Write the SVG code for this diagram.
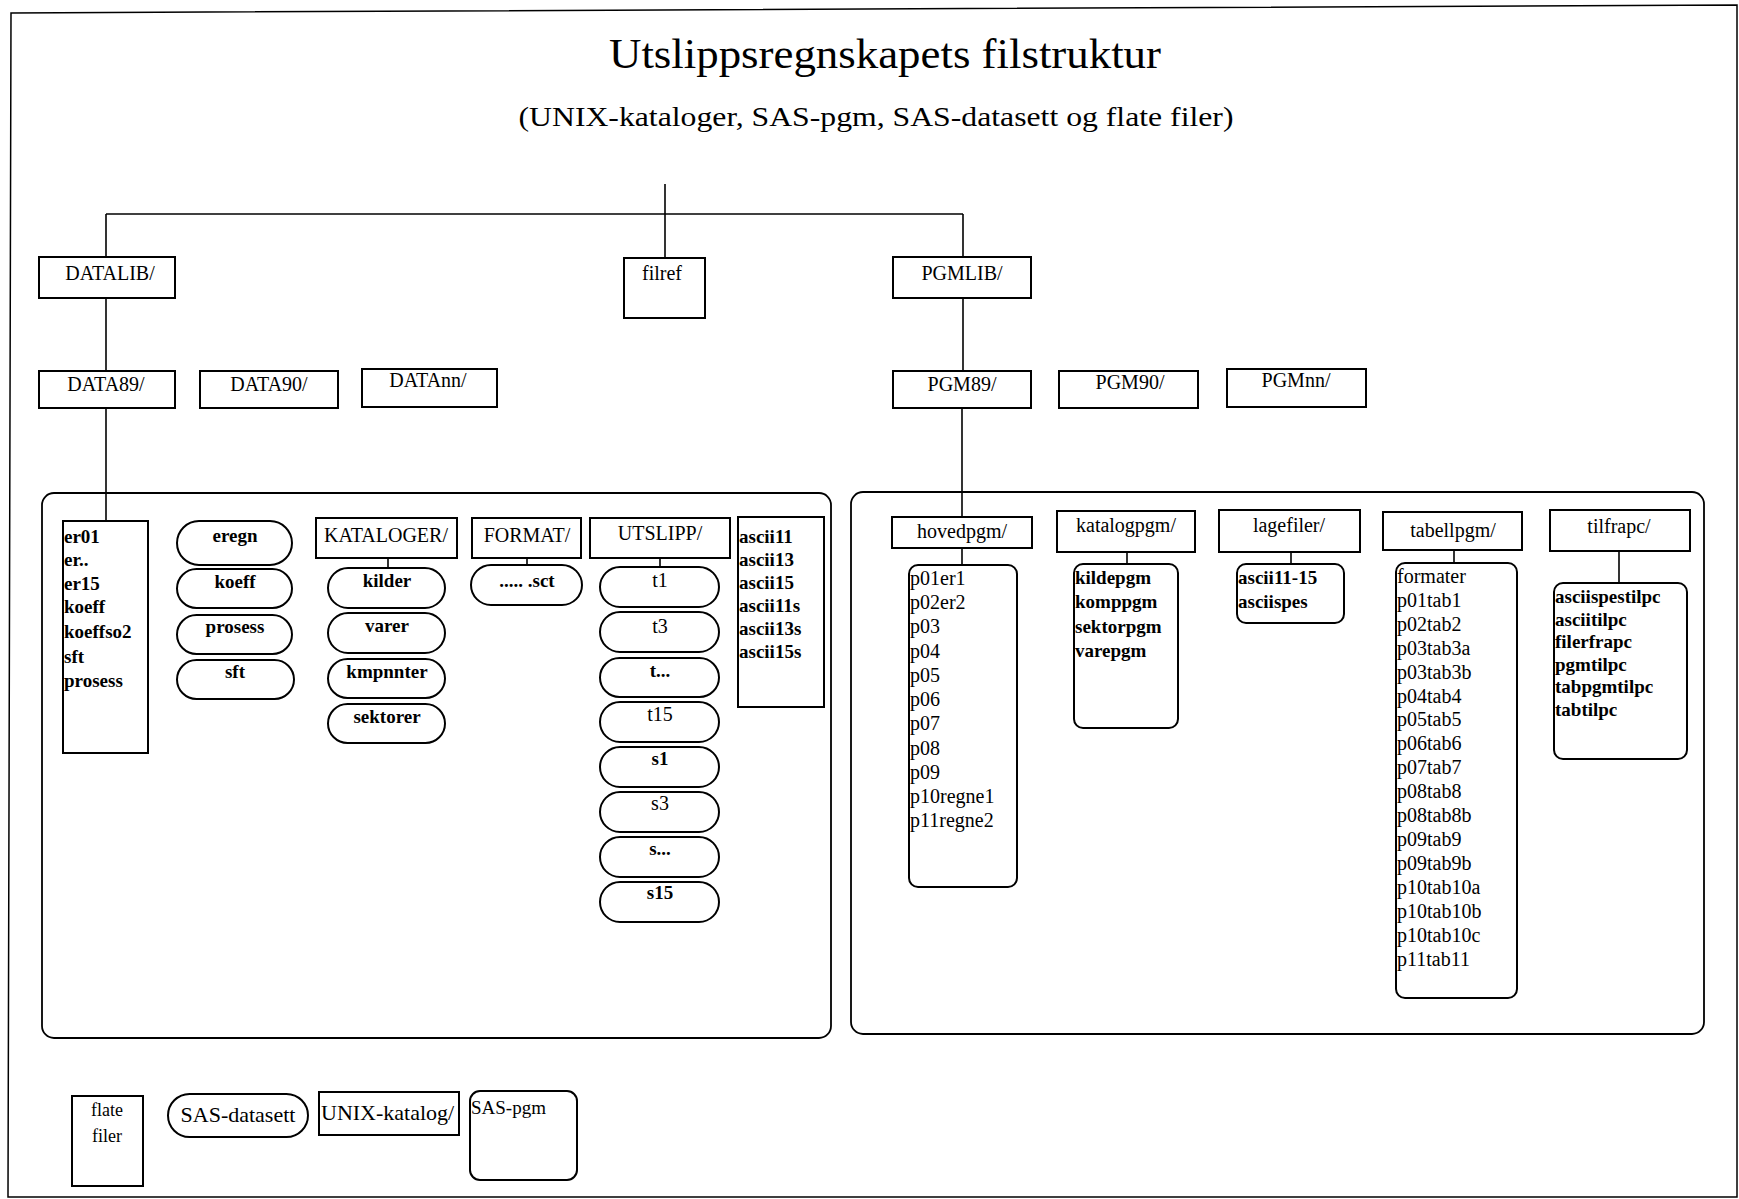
<svg xmlns="http://www.w3.org/2000/svg" width="1739" height="1199" viewBox="0 0 1739 1199">
<style>
.bx{fill:#fff;stroke:#000;stroke-width:2}
.pn{fill:none;stroke:#000;stroke-width:1.8}
.conn line{stroke:#000;stroke-width:1.6}
text{font-family:"Liberation Serif","Times New Roman",serif;fill:#000}
.lb{font-size:20px;text-anchor:middle}
.pl{font-size:19px;font-weight:bold;text-anchor:middle}
.pr{font-size:20px;text-anchor:middle}
.it{font-size:19px;font-weight:bold}
.ir{font-size:20px}
.lg{font-size:22px}
</style>
<rect width="1739" height="1199" fill="#fff"/>
<path d="M11,13 L1737,5 L1737,1197 L8,1197 Z" fill="none" stroke="#000" stroke-width="1.5"/>
<text x="885" y="68" font-size="42" text-anchor="middle" textLength="552" lengthAdjust="spacingAndGlyphs">Utslippsregnskapets filstruktur</text>
<text x="876" y="126" font-size="28" text-anchor="middle" textLength="715" lengthAdjust="spacingAndGlyphs">(UNIX-kataloger, SAS-pgm, SAS-datasett og flate filer)</text>

<g id="panel-left"><rect class="pn" x="42" y="493" width="789" height="545" rx="12"/></g>
<g id="panel-right"><rect class="pn" x="851" y="492" width="853" height="542" rx="12"/></g>

<g id="connectors" class="conn">
<line x1="665" y1="184" x2="665" y2="214"/>
<line x1="106" y1="214" x2="963" y2="214"/>
<line x1="106" y1="214" x2="106" y2="257"/>
<line x1="665" y1="214" x2="665" y2="258"/>
<line x1="963" y1="214" x2="963" y2="257"/>
<line x1="106" y1="298" x2="106" y2="371"/>
<line x1="963" y1="298" x2="963" y2="371"/>
<line x1="106" y1="408" x2="106" y2="521"/>
<line x1="962" y1="408" x2="962" y2="517"/>
<line x1="388" y1="558" x2="388" y2="568"/>
<line x1="527" y1="558" x2="527" y2="565"/>
<line x1="660" y1="558" x2="660" y2="567"/>
<line x1="962" y1="548" x2="962" y2="565"/>
<line x1="1127" y1="552" x2="1127" y2="564"/>
<line x1="1291" y1="552" x2="1291" y2="564"/>
<line x1="1454" y1="550" x2="1454" y2="563"/>
<line x1="1619" y1="551" x2="1619" y2="583"/>
</g>

<g id="datalib"><rect class="bx" x="39" y="257" width="136" height="41"/><text class="lb" x="110" y="280">DATALIB/</text></g>
<g id="filref"><rect class="bx" x="624" y="258" width="81" height="60"/><text class="lb" x="662" y="280">filref</text></g>
<g id="pgmlib"><rect class="bx" x="893" y="257" width="138" height="41"/><text class="lb" x="962" y="280">PGMLIB/</text></g>

<g id="data89"><rect class="bx" x="39" y="371" width="136" height="37"/><text class="lb" x="106" y="391">DATA89/</text></g>
<g id="data90"><rect class="bx" x="200" y="371" width="138" height="37"/><text class="lb" x="269" y="391">DATA90/</text></g>
<g id="datann"><rect class="bx" x="362" y="369" width="135" height="38"/><text class="lb" x="428" y="387">DATAnn/</text></g>
<g id="pgm89"><rect class="bx" x="893" y="371" width="138" height="37"/><text class="lb" x="962" y="391">PGM89/</text></g>
<g id="pgm90"><rect class="bx" x="1059" y="371" width="139" height="37"/><text class="lb" x="1130" y="389">PGM90/</text></g>
<g id="pgmnn"><rect class="bx" x="1227" y="369" width="139" height="38"/><text class="lb" x="1296" y="387">PGMnn/</text></g>

<g id="er-list"><rect class="bx" x="63" y="521" width="85" height="232"/>
<text class="it" x="64" y="543">er01</text>
<text class="it" x="64" y="566">er..</text>
<text class="it" x="64" y="590">er15</text>
<text class="it" x="64" y="613">koeff</text>
<text class="it" x="64" y="638">koeffso2</text>
<text class="it" x="64" y="663">sft</text>
<text class="it" x="64" y="687">prosess</text>
</g>

<g id="eregn"><rect class="bx" x="177" y="521" width="115" height="44" rx="22"/><text class="pl" x="235" y="542">eregn</text></g>
<g id="koeff"><rect class="bx" x="177" y="569" width="115" height="39" rx="19.5"/><text class="pl" x="235" y="588">koeff</text></g>
<g id="prosess"><rect class="bx" x="177" y="615" width="115" height="39" rx="19.5"/><text class="pl" x="235" y="633">prosess</text></g>
<g id="sft"><rect class="bx" x="177" y="660" width="117" height="39" rx="19.5"/><text class="pl" x="235" y="678">sft</text></g>

<g id="kataloger"><rect class="bx" x="316" y="518" width="141" height="40"/><text class="lb" x="386" y="542">KATALOGER/</text></g>
<g id="kilder"><rect class="bx" x="328" y="568" width="117" height="40" rx="20"/><text class="pl" x="387" y="587">kilder</text></g>
<g id="varer"><rect class="bx" x="328" y="613" width="117" height="40" rx="20"/><text class="pl" x="387" y="632">varer</text></g>
<g id="kmpnnter"><rect class="bx" x="328" y="659" width="117" height="39" rx="19.5"/><text class="pl" x="387" y="678">kmpnnter</text></g>
<g id="sektorer"><rect class="bx" x="328" y="704" width="117" height="39" rx="19.5"/><text class="pl" x="387" y="723">sektorer</text></g>

<g id="format"><rect class="bx" x="472" y="518" width="109" height="40"/><text class="lb" x="527" y="542">FORMAT/</text></g>
<g id="sct"><rect class="bx" x="471" y="565" width="111" height="40" rx="20"/><text class="pl" x="527" y="587">..... .sct</text></g>

<g id="utslipp"><rect class="bx" x="590" y="518" width="140" height="40"/><text class="lb" x="660" y="540">UTSLIPP/</text></g>
<g id="t1"><rect class="bx" x="600" y="567" width="119" height="40" rx="20"/><text class="pr" x="660" y="587">t1</text></g>
<g id="t3"><rect class="bx" x="600" y="612" width="119" height="40" rx="20"/><text class="pr" x="660" y="633">t3</text></g>
<g id="tdots"><rect class="bx" x="600" y="658" width="119" height="39" rx="19.5"/><text class="pl" x="660" y="677">t...</text></g>
<g id="t15"><rect class="bx" x="600" y="702" width="119" height="40" rx="20"/><text class="pr" x="660" y="721">t15</text></g>
<g id="s1"><rect class="bx" x="600" y="747" width="119" height="40" rx="20"/><text class="pl" x="660" y="765">s1</text></g>
<g id="s3"><rect class="bx" x="600" y="792" width="119" height="40" rx="20"/><text class="pr" x="660" y="810">s3</text></g>
<g id="sdots"><rect class="bx" x="600" y="837" width="119" height="40" rx="20"/><text class="pl" x="660" y="855">s...</text></g>
<g id="s15"><rect class="bx" x="600" y="882" width="119" height="40" rx="20"/><text class="pl" x="660" y="899">s15</text></g>

<g id="ascii-list"><rect class="bx" x="738" y="517" width="86" height="190"/>
<text class="it" x="739" y="543">ascii11</text>
<text class="it" x="739" y="566">ascii13</text>
<text class="it" x="739" y="589">ascii15</text>
<text class="it" x="739" y="612">ascii11s</text>
<text class="it" x="739" y="635">ascii13s</text>
<text class="it" x="739" y="658">ascii15s</text>
</g>

<g id="hovedpgm"><rect class="bx" x="892" y="517" width="140" height="31"/><text class="lb" x="962" y="538">hovedpgm/</text></g>
<g id="hovedpgm-list"><rect class="bx" x="909" y="565" width="108" height="322" rx="9"/>
<text class="ir" x="910" y="585">p01er1</text>
<text class="ir" x="910" y="609">p02er2</text>
<text class="ir" x="910" y="633">p03</text>
<text class="ir" x="910" y="658">p04</text>
<text class="ir" x="910" y="682">p05</text>
<text class="ir" x="910" y="706">p06</text>
<text class="ir" x="910" y="730">p07</text>
<text class="ir" x="910" y="755">p08</text>
<text class="ir" x="910" y="779">p09</text>
<text class="ir" x="910" y="803">p10regne1</text>
<text class="ir" x="910" y="827">p11regne2</text>
</g>

<g id="katalogpgm"><rect class="bx" x="1057" y="511" width="138" height="41"/><text class="lb" x="1126" y="532">katalogpgm/</text></g>
<g id="katalogpgm-list"><rect class="bx" x="1074" y="564" width="104" height="164" rx="9"/>
<text class="it" x="1075" y="584">kildepgm</text>
<text class="it" x="1075" y="608">komppgm</text>
<text class="it" x="1075" y="633">sektorpgm</text>
<text class="it" x="1075" y="657">varepgm</text>
</g>

<g id="lagefiler"><rect class="bx" x="1219" y="510" width="141" height="42"/><text class="lb" x="1289" y="532">lagefiler/</text></g>
<g id="lagefiler-list"><rect class="bx" x="1237" y="564" width="107" height="59" rx="9"/>
<text class="it" x="1238" y="584">ascii11-15</text>
<text class="it" x="1238" y="608">asciispes</text>
</g>

<g id="tabellpgm"><rect class="bx" x="1383" y="512" width="139" height="38"/><text class="lb" x="1453" y="537">tabellpgm/</text></g>
<g id="tabellpgm-list"><rect class="bx" x="1396" y="563" width="121" height="435" rx="9"/>
<text class="ir" x="1397" y="583">formater</text>
<text class="ir" x="1397" y="607">p01tab1</text>
<text class="ir" x="1397" y="631">p02tab2</text>
<text class="ir" x="1397" y="655">p03tab3a</text>
<text class="ir" x="1397" y="679">p03tab3b</text>
<text class="ir" x="1397" y="703">p04tab4</text>
<text class="ir" x="1397" y="726">p05tab5</text>
<text class="ir" x="1397" y="750">p06tab6</text>
<text class="ir" x="1397" y="774">p07tab7</text>
<text class="ir" x="1397" y="798">p08tab8</text>
<text class="ir" x="1397" y="822">p08tab8b</text>
<text class="ir" x="1397" y="846">p09tab9</text>
<text class="ir" x="1397" y="870">p09tab9b</text>
<text class="ir" x="1397" y="894">p10tab10a</text>
<text class="ir" x="1397" y="918">p10tab10b</text>
<text class="ir" x="1397" y="942">p10tab10c</text>
<text class="ir" x="1397" y="966">p11tab11</text>
</g>

<g id="tilfrapc"><rect class="bx" x="1550" y="510" width="140" height="41"/><text class="lb" x="1619" y="533">tilfrapc/</text></g>
<g id="tilfrapc-list"><rect class="bx" x="1554" y="583" width="133" height="176" rx="9"/>
<text class="it" x="1555" y="603">asciispestilpc</text>
<text class="it" x="1555" y="626">asciitilpc</text>
<text class="it" x="1555" y="648">filerfrapc</text>
<text class="it" x="1555" y="671">pgmtilpc</text>
<text class="it" x="1555" y="693">tabpgmtilpc</text>
<text class="it" x="1555" y="716">tabtilpc</text>
</g>

<g id="legend-flate"><rect class="bx" x="72" y="1096" width="71" height="90"/><text x="107" y="1116" font-size="18" text-anchor="middle">flate</text><text x="107" y="1142" font-size="18" text-anchor="middle">filer</text></g>
<g id="legend-sas-datasett"><rect class="bx" x="168" y="1094" width="140" height="43" rx="21.5"/><text class="lg" x="238" y="1122" text-anchor="middle">SAS-datasett</text></g>
<g id="legend-unix-katalog"><rect class="bx" x="319" y="1092" width="140" height="43"/><text class="lg" x="321" y="1120">UNIX-katalog/</text></g>
<g id="legend-sas-pgm"><rect class="bx" x="470" y="1091" width="107" height="89" rx="10"/><text x="471" y="1114" font-size="19">SAS-pgm</text></g>
</svg>
